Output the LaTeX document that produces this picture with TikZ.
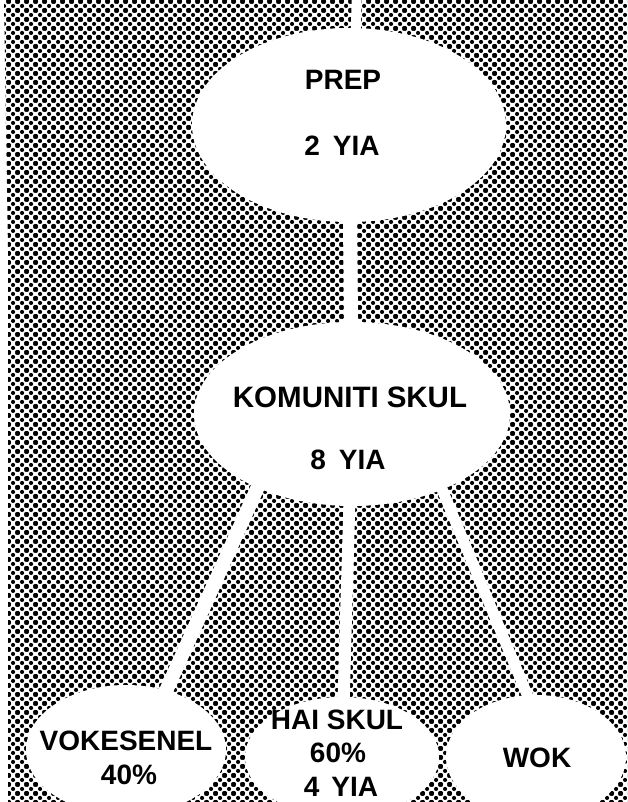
\documentclass[tikz,border=0pt]{standalone}
\usepackage{fontspec}
\setmainfont{Liberation Sans}
\usetikzlibrary{shapes.geometric,patterns}
\pgfdeclarepatternformonly{halftone}{\pgfqpoint{0pt}{0pt}}{\pgfqpoint{9pt}{9pt}}{\pgfqpoint{9pt}{9pt}}{%
  \pgfpathcircle{\pgfqpoint{4.5pt}{4.5pt}}{2.3pt}%
  \pgfpathcircle{\pgfqpoint{0pt}{0pt}}{2.3pt}%
  \pgfpathcircle{\pgfqpoint{9pt}{0pt}}{2.3pt}%
  \pgfpathcircle{\pgfqpoint{0pt}{9pt}}{2.3pt}%
  \pgfpathcircle{\pgfqpoint{9pt}{9pt}}{2.3pt}%
  \pgfusepath{fill}}
\tikzset{
  blob/.style={ellipse, fill=white, draw=none, inner sep=0pt},
  lbl/.style={font=\bfseries\fontsize{28}{28}\selectfont, inner sep=0pt, text=black},
  conn/.style={draw=white, line width=#1, shorten <=-6pt, shorten >=-6pt},
}
\begin{document}
\begin{tikzpicture}[x=1pt,y=-1pt]
\useasboundingbox[fill=white] (0,0) rectangle (627,802);
\fill[pattern=halftone, pattern color=black] (4,0) -- (627,0) -- (627,802) -- (8,802) -- (8,250) -- cycle;

% ellipses
\node[blob, minimum width=314pt, minimum height=194pt] (prep) at (349,125) {};
\node[blob, minimum width=316pt, minimum height=184pt] (kom) at (352,414) {};
\node[blob, minimum width=200pt, minimum height=130pt] (vok) at (126,750) {};
\node[blob, minimum width=194pt, minimum height=120pt] (hai) at (342,757) {};
\node[blob, minimum width=180pt, minimum height=124pt] (wok) at (536,757) {};

% connectors
\coordinate (topend) at (357,-10);
\draw[conn=10pt] (topend) -- (prep.86);
\draw[conn=14pt] (prep) -- (kom);
\draw[conn=14pt] (kom.218.8) -- (vok.56);
\draw[conn=12pt] (kom) -- (hai);
\draw[conn=11pt] (kom.320.4) -- (wok.98);

% labels
\node[lbl] (prepA) at (343,80) {PREP};
\node[lbl] (prepB) at (342,146) {2\hspace{13pt}YIA};
\node[lbl, font=\bfseries\fontsize{29.5}{29.5}\selectfont] (komA) at (350,397) {KOMUNITI\hspace{8pt}SKUL};
\node[lbl] (komB) at (348,460) {8\hspace{13pt}YIA};
\node[lbl] (vokA) at (126,741) {VOKESENEL};
\node[lbl] (vokB) at (129,775) {40\%};
\node[lbl] (haiA) at (337,720) {HAI SKUL};
\node[lbl] (haiB) at (338,753) {60\%};
\node[lbl] (haiC) at (341,787) {4\hspace{12pt}YIA};
\node[lbl] (wokA) at (537,758) {WOK};
\end{tikzpicture}
\end{document}
